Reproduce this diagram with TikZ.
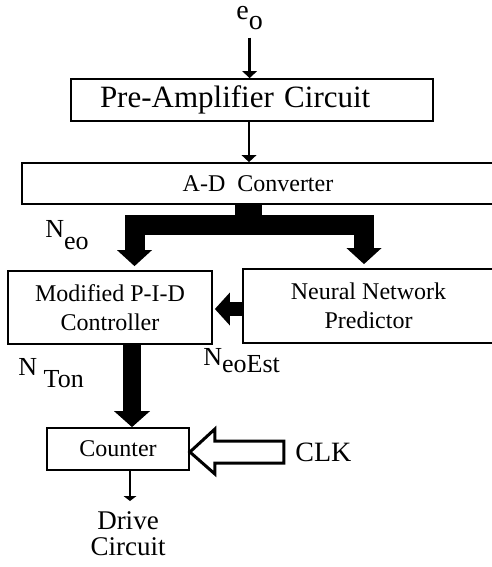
\documentclass[tikz,border=0pt]{standalone}
\usepackage{fontspec}
\setmainfont{Liberation Serif}
\usetikzlibrary{arrows.meta}

\newcommand{\lowtext}[2]{\raisebox{-#1}{#2}}

\tikzset{
  block/.style={draw, line width=0.9pt, inner sep=0pt, align=center,
    font=\fontsize{12}{14.5}\selectfont},
  siglabel/.style={inner sep=0pt, anchor=base west, font=\fontsize{13}{15}\selectfont},
  thinarrow/.style={line width=1.4pt, -{Triangle[width=7.5pt,length=3.5pt,line width=0pt]}},
  busarrow/.style={line width=10pt,
    {Triangle[width=17.5pt,length=8pt,line width=0pt]}-{Triangle[width=17.5pt,length=8pt,line width=0pt]}},
  fatarrow/.style={line width=9pt, -{Triangle[width=18pt,length=8pt,line width=0pt]}},
  sidearrow/.style={line width=7pt, -{Triangle[width=16.5pt,length=7.5pt,line width=0pt]}},
}

\begin{document}
\begin{tikzpicture}[x=0.5pt,y=-0.5pt]
  \clip (0,0) rectangle (492,567);

  % blocks
  \node[block, minimum width=181pt, minimum height=21pt, text width=152pt, align=left,
    font=\fontsize{15.5}{18}\selectfont] (pre) at (252,100) {Pre-Amplifier Circuit};
  \node[block, minimum width=236pt, minimum height=20.5pt] (adc) at (258,183.5) {A-D~~Converter};
  \node[block, minimum width=102pt, minimum height=36.5pt] (pid) at (110,307.5) {Modified P-I-D\\Controller};
  \node[block, minimum width=125.5pt, minimum height=37pt] (nnp) at (368.5,306) {Neural Network\\Predictor};
  \node[block, minimum width=71pt, minimum height=21pt] (cnt) at (118,449) {Counter};

  % signal names
  \node[siglabel, font=\fontsize{14}{16}\selectfont] (eo) at (236,20) {e\lowtext{5pt}{o}};
  \node[siglabel] (neo) at (45,237) {N\lowtext{6pt}{eo}};
  \node[siglabel] (nest) at (203,365) {N\lowtext{3.5pt}{eoEst}};
  \node[siglabel] (nton) at (18,375) {N \lowtext{6pt}{Ton}};
  \node[inner sep=0pt, anchor=west, font=\fontsize{14}{16}\selectfont] (clk) at (295,452) {CLK};
  \node[anchor=north, align=center, inner xsep=0pt, inner ysep=5pt,
    font=\fontsize{13.5}{13}\selectfont] (drv) at (128,501) {Drive\\Circuit};

  % analog path
  \draw[thinarrow, shorten <=3.5pt] (eo.south) -- (eo.south |- pre.north);
  \draw[thinarrow] ([xshift=-1.5pt]pre.south) -- ([xshift=-1.5pt]pre.south |- adc.north);

  % digital bus out of the converter
  \coordinate (split) at (248.5,225);
  \draw[line width=13.5pt] (adc.south -| split) -- (split);
  \draw[busarrow, shorten <=2pt, shorten >=2pt]
    ([xshift=12.25pt]pid.north) |- (split) -| ([xshift=-2.25pt]nnp.north);
  \draw[sidearrow, shorten >=1pt] ([yshift=-1.5pt]nnp.west) -- ([yshift=-1.5pt]nnp.west -| pid.east);
  \draw[fatarrow] ([xshift=7pt]cnt.north |- pid.south) -- ([xshift=7pt]cnt.north);

  % clock input, open block arrow
  \draw[line width=1.5pt, fill=white] ([yshift=-1.5pt]cnt.east) -- ++(25,-23) -- ++(0,12)
    -- ++(69,0) -- ++(0,22) -- ++(-69,0) -- ++(0,11) -- cycle;

  \draw[line width=1.2pt, -{Triangle[width=6.5pt,length=2.5pt,line width=0pt]}]
    ([xshift=6pt]cnt.south) -- ([xshift=6pt]cnt.south |- drv.north);
\end{tikzpicture}
\end{document}
